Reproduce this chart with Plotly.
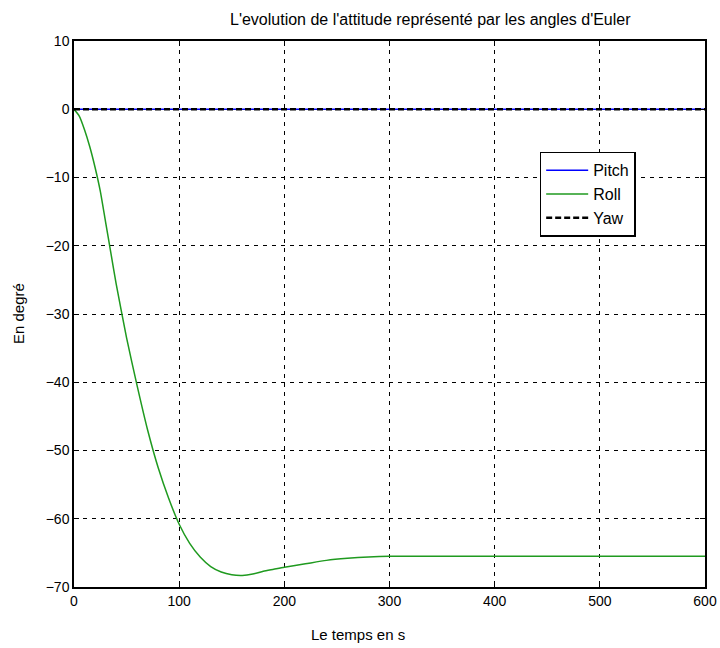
import plotly.graph_objects as go

# Time (s) and attitude angles (degrees)
t = [0, 5, 10, 15, 20, 25, 30, 35, 40, 50, 60, 70, 80, 90, 100, 110, 120, 130,
     140, 150, 160, 170, 180, 190, 200, 220, 240, 260, 280, 300, 350, 400, 450, 500, 550, 600]
roll = [0, -1, -3, -5.5, -8.5, -12, -16.5, -21, -25.5, -33.5, -40.5, -47, -52.5, -57, -60.8,
        -63.6, -65.6, -67, -67.8, -68.2, -68.3, -68.1, -67.7, -67.4, -67.1, -66.6, -66.1,
        -65.8, -65.6, -65.5, -65.5, -65.5, -65.5, -65.5, -65.5, -65.5]
pitch = [0 for _ in t]
yaw = [0 for _ in t]

x_ticks = [0, 100, 200, 300, 400, 500, 600]
y_ticks = [10, 0, -10, -20, -30, -40, -50, -60, -70]

font = "Liberation Sans, Arial, sans-serif"
txt = dict(family=font, size=15, color="#000000")

fig = go.Figure()
fig.add_trace(go.Scatter(x=t, y=pitch, mode="lines", name="Pitch",
                         line=dict(color="#0000ff", width=1.5)))
fig.add_trace(go.Scatter(x=t, y=roll, mode="lines", name="Roll",
                         line=dict(color="#1f9a1f", width=1.5, shape="spline", smoothing=0.6)))
fig.add_trace(go.Scatter(x=t, y=yaw, mode="lines", name="Yaw",
                         line=dict(color="#000000", width=2.5, dash="6px,3px")))

axis_common = dict(
    showgrid=True, gridcolor="#000000", griddash="4px,5px", gridwidth=1,
    showline=True, linecolor="#000000", linewidth=1.5, mirror="ticks",
    ticks="inside", ticklen=5, tickcolor="#000000", zeroline=False,
    tickfont=dict(family=font, size=14, color="#000000"), automargin=False,
)

fig.update_layout(
    width=720, height=648,
    margin=dict(l=74, r=15, t=41, b=61),
    paper_bgcolor="#ffffff", plot_bgcolor="#ffffff",
    xaxis=dict(range=[0, 600], tickvals=x_ticks, **axis_common),
    yaxis=dict(range=[-70, 10], tickvals=y_ticks, **axis_common),
    legend=dict(x=0.738, y=0.797, xanchor="left", yanchor="top",
                bgcolor="#ffffff", bordercolor="#000000", borderwidth=1.5,
                font=dict(family=font, size=16, color="#000000"),
                tracegroupgap=2, itemwidth=42, entrywidth=75),
    showlegend=True,
    annotations=[
        dict(text="L'evolution de l'attitude représenté par les angles d'Euler",
             xref="paper", yref="paper", x=0.565, y=1.0, yshift=22,
             xanchor="center", yanchor="middle", showarrow=False,
             font=dict(family=font, size=16, color="#000000")),
        dict(text="Le temps en s", xref="paper", yref="paper", x=0.45, y=0.0,
             yshift=-47, xanchor="center", yanchor="middle", showarrow=False, font=txt),
        dict(text="En degré", xref="paper", yref="paper", x=0.0, y=0.5,
             xshift=-56, textangle=-90, xanchor="center", yanchor="middle",
             showarrow=False, font=txt),
    ],
)

fig.write_html("out.html")
